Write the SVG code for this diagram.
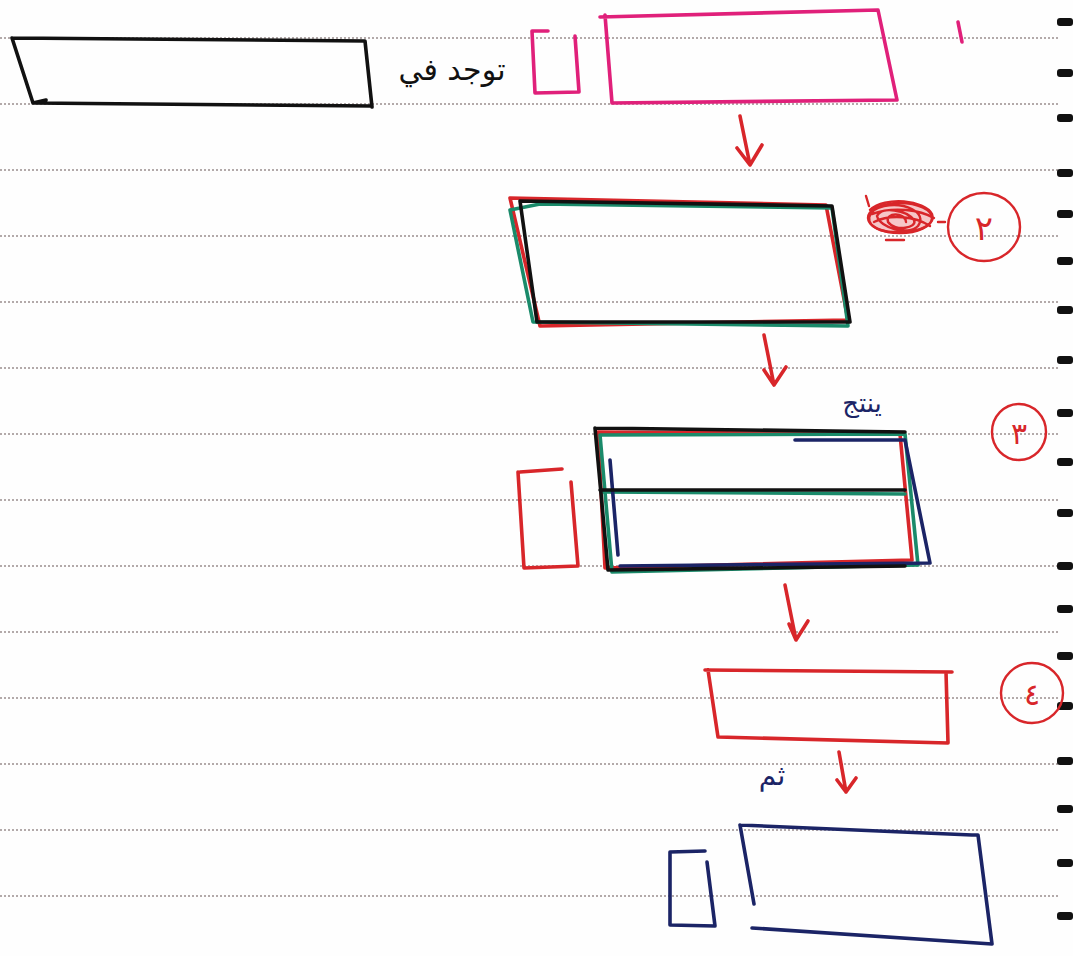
<svg xmlns="http://www.w3.org/2000/svg" width="1073" height="956" viewBox="0 0 1073 956">
<style>
.rule{stroke:#9a8f8f;stroke-width:1.6;stroke-dasharray:2 2;fill:none}
.hole{fill:#111}
.ink{fill:none;stroke-width:3.6;stroke-linecap:round;stroke-linejoin:round}
.blk{stroke:#111}
.pink{stroke:#e0207a}
.red{stroke:#d8262a}
.grn{stroke:#1a8a6a}
.nav{stroke:#1b2466}
.txt{font-family:"DejaVu Sans","Liberation Sans",sans-serif}
.circ{fill:none;stroke:#d8262a;stroke-width:2.4}
</style>
<rect width="1073" height="956" fill="#fefefe"/>
<g id="paper">
<path class="rule" d="M0,38H1060M0,104H1060M0,170H1060M0,236H1060M0,302H1060M0,368H1060M0,434H1060M0,500H1060M0,566H1060M0,632H1060M0,698H1060M0,764H1060M0,830H1060M0,896H1060"/>
<g class="hole">
<rect x="1057" y="18" width="16" height="8" rx="3"/><rect x="1057" y="69" width="16" height="8" rx="3"/><rect x="1057" y="114" width="16" height="8" rx="3"/><rect x="1057" y="169" width="16" height="8" rx="3"/><rect x="1057" y="210" width="16" height="8" rx="3"/><rect x="1057" y="257" width="16" height="8" rx="3"/><rect x="1057" y="306" width="16" height="8" rx="3"/><rect x="1057" y="356" width="16" height="8" rx="3"/><rect x="1057" y="409" width="16" height="8" rx="3"/><rect x="1057" y="458" width="16" height="8" rx="3"/><rect x="1057" y="509" width="16" height="8" rx="3"/><rect x="1057" y="562" width="16" height="8" rx="3"/><rect x="1057" y="605" width="16" height="8" rx="3"/><rect x="1057" y="652" width="16" height="8" rx="3"/><rect x="1057" y="702" width="16" height="8" rx="3"/><rect x="1057" y="757" width="16" height="8" rx="3"/><rect x="1057" y="805" width="16" height="8" rx="3"/><rect x="1057" y="859" width="16" height="8" rx="3"/><rect x="1057" y="912" width="16" height="8" rx="3"/>
</g>
</g>
<g id="node-left">
<path class="ink blk" d="M12,38 L365,41 L372,107 M12,38 L33,103 L372,106 M33,103 L46,100"/>
<text class="txt" x="452" y="80" font-size="30" text-anchor="middle" fill="#111">توجد في</text>
</g>
<g id="node-1-small">
<path class="ink pink" d="M548,31 L532,31 L535,93 L579,92 L575,36"/>
</g>
<g id="node-1">
<path class="ink pink" d="M600,17 L878,10 L897,100 L612,103 L605,15"/>
<path class="ink pink" d="M958,22 L962,42"/>
</g>
<g id="node-2">
<path class="ink red" d="M510,198 L826,205 L848,320 L540,326 Z"/>
<path class="ink grn" d="M510,210 L533,322 L848,326 L832,208 L540,204 Z"/>
<path class="ink blk" d="M520,201 L832,206 L850,322 L537,322 Z"/>
<g id="scribble" fill="none" stroke="#d8262a" stroke-width="2.4" stroke-linecap="round">
<ellipse cx="900" cy="218" rx="32" ry="15" fill="#f6c7c8"/>
<path d="M870,210 C885,196 925,200 932,214 C938,230 900,236 880,230 C864,224 866,210 884,206 C904,202 928,212 918,226 C908,236 880,228 877,216 C882,206 906,210 914,220 C918,228 895,232 888,222 C885,212 905,212 906,222 M874,222 C890,214 915,216 930,226 M872,214 C894,206 920,210 934,218 M866,196 L869,206 M886,240 L904,240 M938,222 L945,222"/>
</g>
<ellipse class="circ" cx="984" cy="227" rx="36" ry="34"/>
<text class="txt" x="984" y="240" font-size="34" text-anchor="middle" fill="#d8262a">٢</text>
</g>
<g id="node-3">
<path class="ink red" d="M520,472 L562,469 M518,472 L524,568 L578,566 L571,482"/>
<path class="ink red" d="M598,432 L900,434 L912,560 L605,568 Z"/>
<path class="ink grn" d="M600,435 L905,434 L918,565 L612,572 Z"/>
<path class="ink grn" d="M602,492 L905,494"/>
<path class="ink nav" d="M795,440 L905,440 L930,563 L620,566 M610,460 L618,555"/>
<path class="ink blk" d="M595,428 L905,432 M595,428 L608,570 L905,566 M600,490 L905,490"/>
<text class="txt" x="862" y="412" font-size="26" text-anchor="middle" fill="#1b2466">ينتج</text>
<ellipse class="circ" cx="1019" cy="432" rx="27" ry="28"/>
<text class="txt" x="1019" y="444" font-size="30" text-anchor="middle" fill="#d8262a">٣</text>
</g>
<g id="node-4">
<path class="ink red" d="M705,670 L952,672 M708,670 L718,737 L948,743 L946,672"/>
<ellipse class="circ" cx="1032" cy="693" rx="31" ry="30"/>
<text class="txt" x="1032" y="705" font-size="30" text-anchor="middle" fill="#d8262a">٤</text>
</g>
<g id="node-5">
<path class="ink nav" d="M670,852 L705,851 M707,862 L715,926 L670,925 L670,852"/>
<path class="ink nav" d="M740,825 L972,835 L978,835 L992,944 L752,928 M740,825 L754,904"/>
<text class="txt" x="772" y="785" font-size="28" text-anchor="middle" fill="#1b2466">ثم</text>
</g>
<g id="connectors">
<path class="ink red" d="M740,116 L750,165 M737,148 L750,165 L762,145"/>
<path class="ink red" d="M764,335 L774,385 M764,370 L774,385 L786,367"/>
<path class="ink red" d="M785,585 L796,640 M789,624 L796,640 L808,621"/>
<path class="ink red" d="M839,752 L846,792 M837,780 L846,792 L856,778"/>
</g>
</svg>
